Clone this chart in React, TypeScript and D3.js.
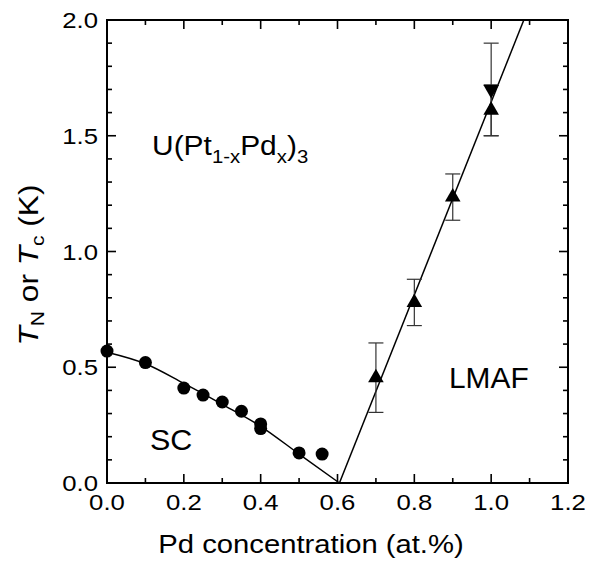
import React, { useEffect, useRef } from "react";
import * as d3 from "d3";

// ---- data ----
const scX = [0.0, 0.1, 0.2, 0.25, 0.3, 0.35, 0.4, 0.4, 0.5, 0.56];
const scTc = [0.57, 0.52, 0.41, 0.38, 0.35, 0.31, 0.255, 0.235, 0.13, 0.125];

const scFitX = [0.0, 0.1, 0.2, 0.3, 0.4, 0.5, 0.605];
const scFitY = [0.565, 0.515, 0.43, 0.34, 0.245, 0.125, 0.0];

const afUpX = [0.7, 0.8, 0.9, 1.0];
const afUpT = [0.455, 0.78, 1.235, 1.61];
const afUpErr = [0.15, 0.1, 0.1, 0.11];

const afDownX = [1.0];
const afDownT = [1.7];
const afDownErr = [0.2];

const afFitX = [0.605, 1.085];
const afFitY = [0.0, 2.0];

const xMajor = [0, 0.2, 0.4, 0.6, 0.8, 1.0, 1.2];
const xMinor = [0.1, 0.3, 0.5, 0.7, 0.9, 1.1];
const yMajor = [0, 0.5, 1.0, 1.5, 2.0];
const yMinor = [0.1, 0.2, 0.3, 0.4, 0.6, 0.7, 0.8, 0.9, 1.1, 1.2, 1.3, 1.4, 1.6, 1.7, 1.8, 1.9];

const W = 592;
const H = 563;
const M = { left: 107, right: 568, top: 20, bottom: 483 };
const FONT = "'Liberation Sans', Arial, Helvetica, sans-serif";
const STRETCH = 1.17;

export default function App() {
  const ref = useRef<SVGSVGElement | null>(null);

  useEffect(() => {
    const svg = d3.select(ref.current);
    svg.selectAll("*").remove();

    const x = d3.scaleLinear().domain([0, 1.2]).range([M.left, M.right]);
    const y = d3.scaleLinear().domain([0, 2.0]).range([M.bottom, M.top]);

    const g = svg.append("g");

    // fits
    const scFit: [number, number][] = scFitX.map((v, i) => [v, scFitY[i]]);
    g.append("path")
      .attr(
        "d",
        d3
          .line<[number, number]>()
          .x((d) => x(d[0]))
          .y((d) => y(d[1]))
          .curve(d3.curveMonotoneX)(scFit) as string
      )
      .attr("fill", "none")
      .attr("stroke", "#000")
      .attr("stroke-width", 1.5);
    const afFit: [number, number][] = afFitX.map((v, i) => [v, afFitY[i]]);
    g.append("path")
      .attr("d", d3.line<[number, number]>().x((d) => x(d[0])).y((d) => y(d[1]))(afFit) as string)
      .attr("fill", "none")
      .attr("stroke", "#000")
      .attr("stroke-width", 1.5);

    // error bars
    const errs = [
      ...afUpX.map((v, i) => ({ x: v, t: afUpT[i], e: afUpErr[i] })),
      ...afDownX.map((v, i) => ({ x: v, t: afDownT[i], e: afDownErr[i] })),
    ];
    const cap = 7.5;
    errs.forEach((d) => {
      const cx = x(d.x);
      const g2 = g.append("g").attr("stroke", "#333").attr("stroke-width", 1.2);
      g2.append("line").attr("x1", cx).attr("x2", cx).attr("y1", y(d.t - d.e)).attr("y2", y(d.t + d.e));
      g2.append("line").attr("x1", cx - cap).attr("x2", cx + cap).attr("y1", y(d.t - d.e)).attr("y2", y(d.t - d.e));
      g2.append("line").attr("x1", cx - cap).attr("x2", cx + cap).attr("y1", y(d.t + d.e)).attr("y2", y(d.t + d.e));
    });

    // circles
    g.selectAll("circle.sc")
      .data(scX.map((v, i) => [v, scTc[i]]))
      .join("circle")
      .attr("cx", (d) => x(d[0]))
      .attr("cy", (d) => y(d[1]))
      .attr("r", 6.5)
      .attr("fill", "#000");

    // triangles
    const tri = d3.symbol().type(d3.symbolTriangle).size(105);
    g.selectAll("path.up")
      .data(afUpX.map((v, i) => [v, afUpT[i]]))
      .join("path")
      .attr("d", tri() as string)
      .attr("transform", (d) => `translate(${x(d[0])},${y(d[1])})`)
      .attr("fill", "#000");
    g.selectAll("path.down")
      .data(afDownX.map((v, i) => [v, afDownT[i]]))
      .join("path")
      .attr("d", tri() as string)
      .attr("transform", (d) => `translate(${x(d[0])},${y(d[1])}) rotate(180)`)
      .attr("fill", "#000");

    // frame
    g.append("rect")
      .attr("x", M.left)
      .attr("y", M.top)
      .attr("width", M.right - M.left)
      .attr("height", M.bottom - M.top)
      .attr("fill", "none")
      .attr("stroke", "#000")
      .attr("stroke-width", 2);

    // ticks (inward, all sides)
    const tk = g.append("g").attr("stroke", "#000").attr("stroke-width", 1.6);
    const major = 9;
    const minor = 5;
    const xt = [...xMajor.map((v) => [v, major]), ...xMinor.map((v) => [v, minor])];
    xt.forEach(([v, L]) => {
      tk.append("line").attr("x1", x(v)).attr("x2", x(v)).attr("y1", M.bottom).attr("y2", M.bottom - L);
      tk.append("line").attr("x1", x(v)).attr("x2", x(v)).attr("y1", M.top).attr("y2", M.top + L);
    });
    const yt = [...yMajor.map((v) => [v, major]), ...yMinor.map((v) => [v, minor])];
    yt.forEach(([v, L]) => {
      tk.append("line").attr("y1", y(v)).attr("y2", y(v)).attr("x1", M.left).attr("x2", M.left + L);
      tk.append("line").attr("y1", y(v)).attr("y2", y(v)).attr("x1", M.right).attr("x2", M.right - L);
    });

    // tick labels
    const fmt = d3.format(".1f");
    g.selectAll("text.xl")
      .data(xMajor)
      .join("text")
      .attr("transform", (d) => `translate(${x(d)},510) scale(${STRETCH},1)`)
      .attr("text-anchor", "middle")
      .attr("font-family", FONT)
      .attr("font-size", 22)
      .text((d) => fmt(d));
    g.selectAll("text.yl")
      .data(yMajor)
      .join("text")
      .attr("transform", (d) => `translate(98,${y(d) + 8}) scale(${STRETCH},1)`)
      .attr("text-anchor", "end")
      .attr("font-family", FONT)
      .attr("font-size", 22)
      .text((d) => fmt(d));

    // axis titles
    g.append("text")
      .attr("transform", `translate(311,553) scale(${STRETCH},1)`)
      .attr("text-anchor", "middle")
      .attr("font-family", FONT)
      .attr("font-size", 25)
      .text("Pd concentration (at.%)");

    const yl = g
      .append("text")
      .attr("transform", `translate(38,265) rotate(-90) scale(${STRETCH},1)`)
      .attr("text-anchor", "middle")
      .attr("font-family", FONT)
      .attr("font-size", 27);
    yl.append("tspan").attr("font-style", "italic").text("T");
    yl.append("tspan").attr("font-size", 18).attr("dy", 6).text("N");
    yl.append("tspan").attr("dy", -6).text(" or ");
    yl.append("tspan").attr("font-style", "italic").text("T");
    yl.append("tspan").attr("font-size", 18).attr("dy", 6).text("c");
    yl.append("tspan").attr("dy", -6).text(" (K)");

    // annotations
    const ann = g
      .append("text")
      .attr("transform", "translate(152,155) scale(1.07,1)")
      .attr("font-family", FONT)
      .attr("font-size", 28);
    ann.append("tspan").text("U(Pt");
    ann.append("tspan").attr("font-size", 19).attr("dy", 8).text("1-x");
    ann.append("tspan").attr("dy", -8).text("Pd");
    ann.append("tspan").attr("font-size", 19).attr("dy", 8).text("x");
    ann.append("tspan").attr("dy", -8).text(")");
    ann.append("tspan").attr("font-size", 19).attr("dy", 8).text("3");

    g.append("text")
      .attr("transform", "translate(150,450) scale(1.05,1)")
      .attr("font-family", FONT)
      .attr("font-size", 29)
      .text("SC");
    g.append("text")
      .attr("transform", "translate(449,388) scale(1.03,1)")
      .attr("font-family", FONT)
      .attr("font-size", 29)
      .text("LMAF");
  }, []);

  return (
    <svg
      ref={ref}
      width={W}
      height={H}
      style={{ position: "absolute", left: 0, top: 0, background: "#fff" }}
    />
  );
}
